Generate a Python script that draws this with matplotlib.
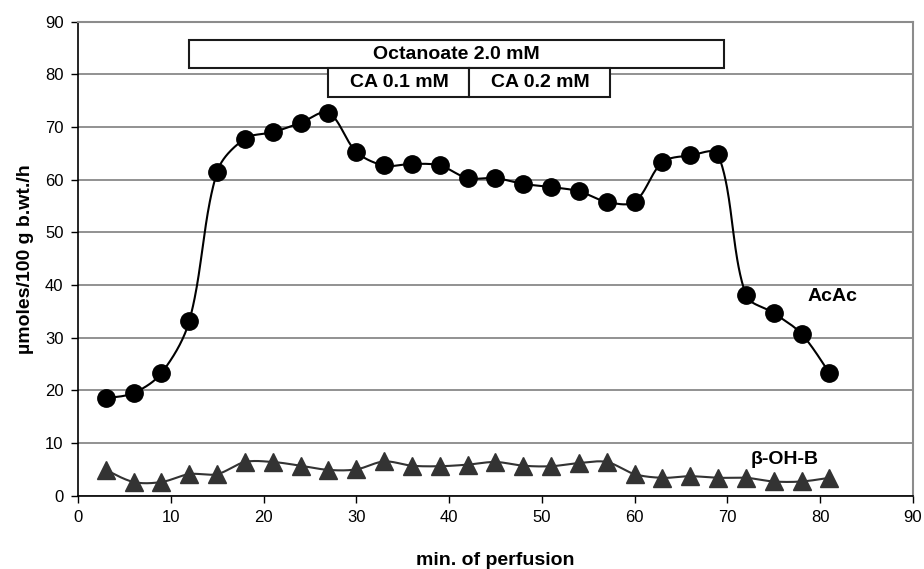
import numpy as np
import matplotlib
matplotlib.use("Agg")
import matplotlib.pyplot as plt
from matplotlib.patches import Rectangle

plt.rcParams['font.family'] = ['Liberation Sans', 'DejaVu Sans']

# Perfusion time (min)
minutes = [3, 6, 9, 12, 15, 18, 21, 24, 27, 30, 33, 36, 39, 42,
           45, 48, 51, 54, 57, 60, 63, 66, 69, 72, 75, 78, 81]
# Acetoacetate output
acac = [18.5, 19.5, 23.3, 33.2, 61.5, 67.8, 69.0, 70.8, 72.7, 65.3, 62.7, 63.0,
        62.7, 60.3, 60.3, 59.2, 58.6, 57.8, 55.8, 55.8, 63.3, 64.6, 64.8, 38.1,
        34.7, 30.7, 23.3]
# beta-hydroxybutyrate output
bohb = [4.9, 2.6, 2.6, 4.1, 4.1, 6.4, 6.4, 5.7, 4.9, 5.0, 6.5, 5.7, 5.6, 5.9,
        6.4, 5.7, 5.6, 6.2, 6.4, 4.1, 3.4, 3.7, 3.4, 3.4, 2.7, 2.7, 3.4]

x_ticks = [0, 10, 20, 30, 40, 50, 60, 70, 80, 90]
y_ticks = [0, 10, 20, 30, 40, 50, 60, 70, 80, 90]

# Treatment periods: (label, start, end, bottom, top)
periods = [
    ("Octanoate 2.0 mM", 12.0, 69.6, 81.2, 86.5),
    ("CA 0.1 mM", 27.0, 42.2, 75.7, 81.2),
    ("CA 0.2 mM", 42.2, 57.4, 75.7, 81.2),
]


def smooth(x, y, sx=9.28, sy=5.27, n=40):
    """Bezier smoothing through every point; control arms are weighted by the
    on-screen length of the neighbouring segments to limit overshoot."""
    p = np.column_stack([np.asarray(x, float), np.asarray(y, float)])
    scale = np.array([sx, sy])
    m = len(p)
    tang = np.zeros_like(p)
    for i in range(m):
        a = p[max(i - 1, 0)]
        b = p[min(i + 1, m - 1)]
        tang[i] = b - a
    seg = np.linalg.norm(np.diff(p, axis=0) * scale, axis=1)
    t = np.linspace(0, 1, n)[:, None]
    out = []
    for i in range(m - 1):
        d_in_i = seg[i - 1] if i > 0 else seg[i]
        d_out_i = seg[i]
        d_in_j = seg[i]
        d_out_j = seg[i + 1] if i + 1 < m - 1 else seg[i]
        c1 = p[i] + tang[i] * (1 / 3) * d_out_i / (d_in_i + d_out_i)
        c2 = p[i + 1] - tang[i + 1] * (1 / 3) * d_in_j / (d_in_j + d_out_j)
        b = (1 - t) ** 3 * p[i] + 3 * (1 - t) ** 2 * t * c1 \
            + 3 * (1 - t) * t ** 2 * c2 + t ** 3 * p[i + 1]
        out.append(b)
    out = np.vstack(out)
    return out[:, 0], out[:, 1]


fig = plt.figure(figsize=(9.24, 5.69), dpi=100)
ax = fig.add_axes([0.0844, 0.1288, 0.9036, 0.8331])

ax.set_xlim(0, 90)
ax.set_ylim(0, 90)
ax.set_xticks(x_ticks)
ax.set_yticks(y_ticks)
ax.tick_params(axis='both', direction='out', length=5, width=1, labelsize=12,
               pad=5.5, color='black')
ax.grid(axis='y', color='#7f7f7f', linewidth=1.2)
ax.set_axisbelow(True)

for side in ('top', 'right'):
    ax.spines[side].set_color('#8c8c8c')
    ax.spines[side].set_linewidth(1.5)
for side in ('left', 'bottom'):
    ax.spines[side].set_color('black')
    ax.spines[side].set_linewidth(1.2)

lx, ly = smooth(minutes, bohb)
ax.plot(lx, ly, color='#333333', linewidth=1.5, zorder=3)
ax.plot(minutes, bohb, linestyle='none', marker='^', markersize=13,
        color='#333333', zorder=4, clip_on=False)

lx, ly = smooth(minutes, acac)
ax.plot(lx, ly, color='black', linewidth=1.5, zorder=3)
ax.plot(minutes, acac, linestyle='none', marker='o', markersize=12.5,
        color='black', zorder=4)

for label, x0, x1, y0, y1 in periods:
    ax.add_patch(Rectangle((x0, y0), x1 - x0, y1 - y0, facecolor='white',
                           edgecolor='#1a1a1a', linewidth=1.5, zorder=5))
    ax.text((x0 + x1) / 2, (y0 + y1) / 2, label, ha='center', va='center',
            fontsize=14, fontweight='bold', zorder=6)

ax.text(81.3, 37.9, "AcAc", ha='center', va='center', fontsize=14,
        fontweight='bold')
ax.text(76.2, 6.8, "β-OH-B", ha='center', va='center', fontsize=14,
        fontweight='bold')

ax.set_xlabel("min. of perfusion", fontsize=14, fontweight='bold', labelpad=19)
ax.set_ylabel("µmoles/100 g b.wt./h", fontsize=14, fontweight='bold', labelpad=8)

fig.savefig("out.png", dpi=100)
